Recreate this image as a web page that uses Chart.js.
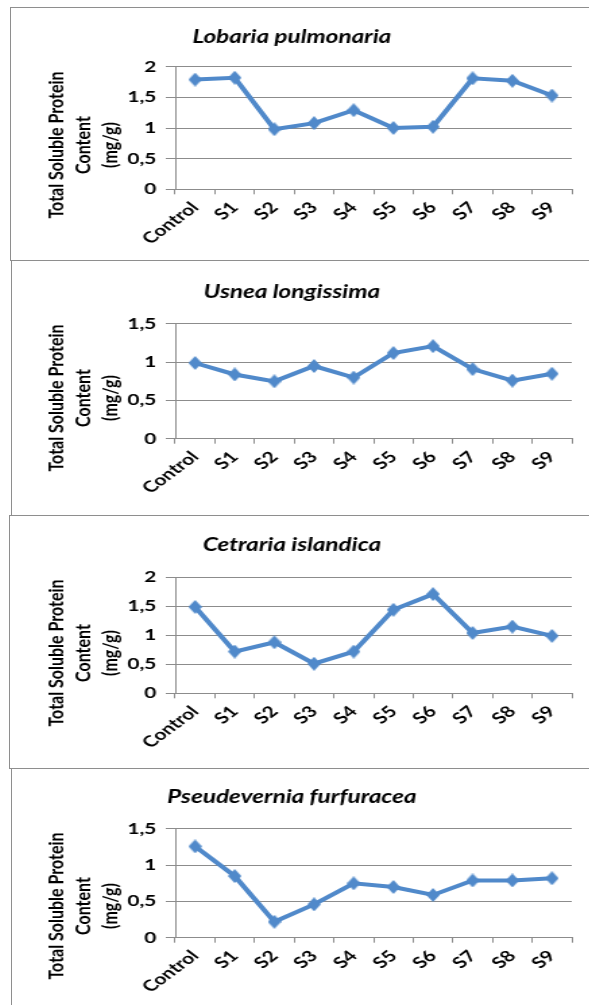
<!DOCTYPE html>
<html>
<head>
<meta charset="utf-8">
<script src="https://cdn.jsdelivr.net/npm/chart.js@4.4.1/dist/chart.umd.min.js"></script>
<style>
  body { margin: 0; width: 589px; height: 1005px; overflow: hidden; background: #fff; position: relative; }
  .frame { position: absolute; box-sizing: border-box; border: 1px solid #8e8e8e; width: 700px; }
  canvas { position: absolute; left: 12px; }
</style>
</head>
<body>
<div class="frame" style="left:10px;top:7px;height:254px"></div>
<div class="frame" style="left:11px;top:260px;height:256px"></div>
<div class="frame" style="left:9px;top:515px;height:254px"></div>
<div class="frame" style="left:11px;top:768px;height:300px"></div>

<canvas id="c1" width="427" height="252" style="top:8px;width:576.45px;height:252px"></canvas>
<canvas id="c2" width="427" height="254" style="top:261px;width:576.45px;height:254px"></canvas>
<canvas id="c3" width="427" height="252" style="top:516px;width:576.45px;height:252px"></canvas>
<canvas id="c4" width="427" height="236" style="top:769px;width:576.45px;height:236px"></canvas>

<script>
// the source picture is stretched sideways, so each canvas is drawn narrow and widened by css
const SX = 1.35;

const categories = ["Control", "S1", "S2", "S3", "S4", "S5", "S6", "S7", "S8", "S9"];

const lobaria = [1.79, 1.82, 0.98, 1.08, 1.29, 1.00, 1.02, 1.81, 1.77, 1.53];
const usnea = [0.99, 0.84, 0.75, 0.95, 0.80, 1.12, 1.21, 0.91, 0.76, 0.85];
const cetraria = [1.49, 0.72, 0.88, 0.51, 0.72, 1.44, 1.71, 1.04, 1.15, 0.99];
const pseudevernia = [1.26, 0.85, 0.22, 0.46, 0.75, 0.70, 0.59, 0.79, 0.79, 0.82];

const ticksTo2 = ["0", "0,5", "1", "1,5", "2"];
const ticksTo15 = ["0", "0,5", "1", "1,5"];

const yTitle = ["Total Soluble Protein", "Content", "(mg/g)"];

const blue = "#5089ca";
const gray = "#8c8c8c";
const font = "Lato";

// diamond marker, narrower than tall so it looks square once stretched
const marker = document.createElement("canvas");
marker.width = 10;
marker.height = 14;
(function () {
  const m = marker.getContext("2d");
  m.fillStyle = blue;
  m.beginPath();
  m.moveTo(5, 0);
  m.lineTo(10, 7);
  m.lineTo(5, 14);
  m.lineTo(0, 7);
  m.closePath();
  m.fill();
})();

// three line rotated axis title, drawn lower than the plot centre like the original
const yLabelPlugin = {
  id: "yLabel",
  afterDraw(chart, args, opts) {
    const ctx = chart.ctx;
    ctx.save();
    ctx.font = "bold 16px " + font;
    ctx.fillStyle = "#000";
    ctx.textAlign = "center";
    ctx.textBaseline = "middle";
    opts.lines.forEach((t, i) => {
      ctx.save();
      ctx.translate(opts.x + i * opts.step, opts.y);
      ctx.rotate(-Math.PI / 2);
      ctx.fillText(t, 0, 0);
      ctx.restore();
    });
    ctx.restore();
  },
};

function makeChart(id, name, values, tickLabels, box) {
  const yMax = parseFloat(tickLabels[tickLabels.length - 1].replace(",", "."));
  new Chart(document.getElementById(id), {
    type: "line",
    data: {
      labels: categories,
      datasets: [
        {
          data: values,
          borderColor: blue,
          backgroundColor: blue,
          borderWidth: 4,
          tension: 0,
          pointStyle: marker,
          pointRadius: 7,
        },
      ],
    },
    options: {
      responsive: false,
      animation: false,
      devicePixelRatio: 1,
      layout: { padding: { left: 0, right: 12, top: 0, bottom: 0 } },
      plugins: {
        legend: { display: false },
        tooltip: { enabled: false },
        title: {
          display: true,
          text: name,
          color: "#000",
          font: { family: font, size: 18, weight: "bold", style: "italic", lineHeight: 1.2 },
          padding: { top: box.tc - 10.8, bottom: box.top - box.tc - 10.8 },
        },
        yLabel: { lines: yTitle, x: 33, step: 19.7, y: 137 },
      },
      scales: {
        x: {
          offset: true,
          grid: { offset: true, drawOnChartArea: false, drawTicks: true, tickLength: 5, color: gray },
          border: { color: gray },
          ticks: {
            autoSkip: false,
            minRotation: 45,
            maxRotation: 45,
            padding: 4,
            color: "#000",
            font: { family: font, size: 15.5, weight: "bold" },
          },
          afterFit: (s) => {
            s.height = box.h - box.bottom;
          },
        },
        y: {
          min: 0,
          max: yMax,
          ticks: {
            stepSize: 0.5,
            padding: 7,
            color: "#000",
            font: { family: font, size: 15.5, weight: "bold" },
            callback: (v, i) => tickLabels[i],
          },
          grid: { color: gray, tickLength: 7 },
          border: { color: gray },
          afterFit: (s) => {
            s.width = 121;
          },
        },
      },
    },
    plugins: [yLabelPlugin],
  });
}

makeChart("c1", "Lobaria pulmonaria", lobaria, ticksTo2, { h: 252, tc: 28.7, top: 58.7, bottom: 181.3 });
makeChart("c2", "Usnea longissima", usnea, ticksTo15, { h: 254, tc: 30.7, top: 63, bottom: 177.7 });
makeChart("c3", "Cetraria islandica", cetraria, ticksTo2, { h: 252, tc: 29, top: 61.3, bottom: 177.3 });
makeChart("c4", "Pseudevernia furfuracea", pseudevernia, ticksTo15, { h: 236, tc: 27.7, top: 60, bottom: 168.7 });
</script>
</body>
</html>
